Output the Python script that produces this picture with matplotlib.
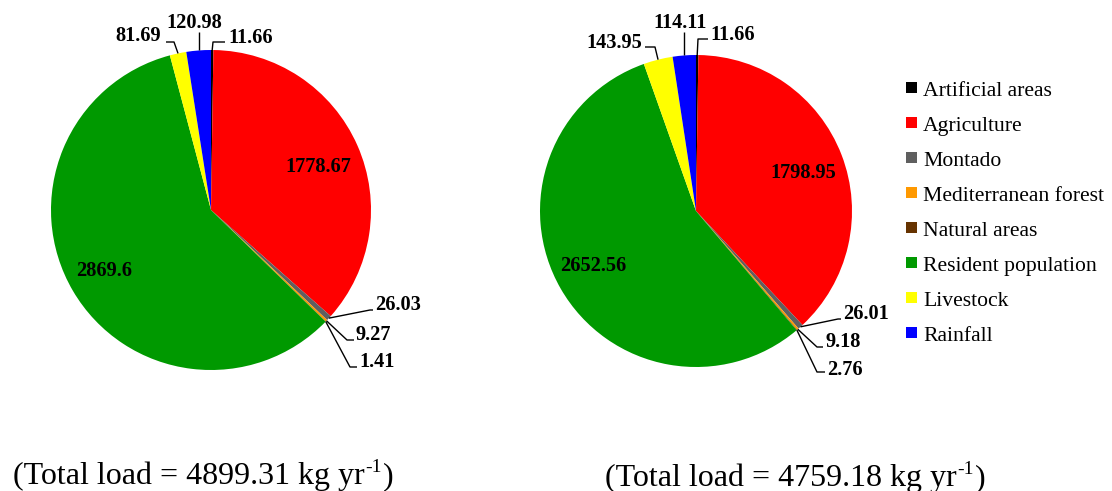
import matplotlib
matplotlib.use("Agg")
import matplotlib.pyplot as plt
from matplotlib.patches import Rectangle
import numpy as np

# ---- data -------------------------------------------------------------
categories = ["Artificial areas", "Agriculture", "Montado", "Mediterranean forest",
              "Natural areas", "Resident population", "Livestock", "Rainfall"]
load_left = [11.66, 1778.67, 26.03, 9.27, 1.41, 2869.6, 81.69, 120.98]
load_right = [11.66, 1798.95, 26.01, 9.18, 2.76, 2652.56, 143.95, 114.11]
value_text_left = ["11.66", "1778.67", "26.03", "9.27", "1.41", "2869.6", "81.69", "120.98"]
value_text_right = ["11.66", "1798.95", "26.01", "9.18", "2.76", "2652.56", "143.95", "114.11"]
total_left = "4899.31"
total_right = "4759.18"

colors = ["#000000", "#FF0000", "#5F5F5F", "#FF9900",
          "#663300", "#009900", "#FFFF00", "#0000FF"]

# ---- layout (pixel units, y measured from the top) ----------------------
W, H = 1112, 491
SERIF = "Liberation Serif"

# label placement per slice: (text x, baseline y, ha, leader path or None)
# leader path: list of points after the slice edge anchor; "v" = vertical up to y
layout_left = {
    "center": (211, 210), "radius": 160,
    "labels": [
        (228, 43, "left", [(213, 42), (225, 42)]),
        (318, 172, "center", None),
        (375, 310, "left", [(370, 310), (373, 310)]),
        (356, 340, "left", [(347, 340), (354, 340)]),
        (359, 367, "left", [(350, 367), (357, 367)]),
        (104, 276, "center", None),
        (161, 41, "right", [(174, 42), (166, 42)]),
        (194, 28, "center", [("v", 32)]),
    ],
    "total": (13, 484),
}
layout_right = {
    "center": (696, 211), "radius": 156,
    "labels": [
        (710, 40, "left", [(698, 39), (708, 39)]),
        (803, 178, "center", None),
        (843, 319, "left", [(838, 319), (841, 319)]),
        (825, 347, "left", [(817, 347), (823, 347)]),
        (827, 375, "left", [(817, 372), (825, 372)]),
        (593, 271, "center", None),
        (642, 48, "right", [(655, 47), (645, 47)]),
        (680, 28, "center", [("v", 32)]),
    ],
    "total": (605, 486),
}


def P(x, y):
    """Convert top-origin pixel coordinates into axes data coordinates."""
    return x, H - y


fig = plt.figure(figsize=(W / 100, H / 100), dpi=100)
ax = fig.add_axes([0, 0, 1, 1])


def draw_pie(values, texts, lay):
    cx, cy = P(*lay["center"])
    r = lay["radius"]
    wedges, _ = ax.pie(values, colors=colors, startangle=90, counterclock=False,
                       center=(cx, cy), radius=r,
                       wedgeprops=dict(linewidth=0, antialiased=True))
    for w, txt, (tx, ty, ha, path) in zip(wedges, texts, lay["labels"]):
        if path is not None:
            mid = np.deg2rad((w.theta1 + w.theta2) / 2)
            ax_ = cx + r * np.cos(mid)
            ay_ = cy + r * np.sin(mid)
            xs, ys = [ax_], [ay_]
            for pt in path:
                if pt[0] == "v":
                    xs.append(ax_)
                    ys.append(H - pt[1])
                else:
                    px, py = P(*pt)
                    xs.append(px)
                    ys.append(py)
            ax.plot(xs, ys, color="black", lw=1.0, solid_capstyle="butt")
        ax.text(*P(tx, ty), txt, ha=ha, va="baseline", fontsize=14.7,
                fontweight="bold", family=SERIF, color="black")


draw_pie(load_left, value_text_left, layout_left)
draw_pie(load_right, value_text_right, layout_right)

ax.set_xlim(0, W)
ax.set_ylim(0, H)
ax.set_aspect("auto")
ax.axis("off")

# legend
leg_x, leg_y0, leg_dy, box = 906, 82, 35, 11
for i, (name, c) in enumerate(zip(categories, colors)):
    top = leg_y0 + i * leg_dy
    ax.add_patch(Rectangle(P(leg_x, top + box), box, box, facecolor=c,
                           edgecolor="none"))
    ax.text(*P(leg_x + 17, top + 14), name, ha="left", va="baseline",
            fontsize=15.6, family=SERIF, color="black")

# total load captions with superscript unit exponent
renderer = fig.canvas.get_renderer()


def caption(total, pos):
    x, y = P(*pos)
    t1 = ax.text(x, y, f"(Total load = {total} kg yr", ha="left", va="baseline",
                 fontsize=23, family=SERIF)
    e1 = t1.get_window_extent(renderer)
    t2 = ax.text(e1.x1 + 1, y + 12, "-1", ha="left", va="baseline",
                 fontsize=14, family=SERIF)
    e2 = t2.get_window_extent(renderer)
    ax.text(e2.x1 + 1, y, ")", ha="left", va="baseline", fontsize=23, family=SERIF)


caption(total_left, layout_left["total"])
caption(total_right, layout_right["total"])

fig.savefig("out.png", dpi=100, facecolor="white")
